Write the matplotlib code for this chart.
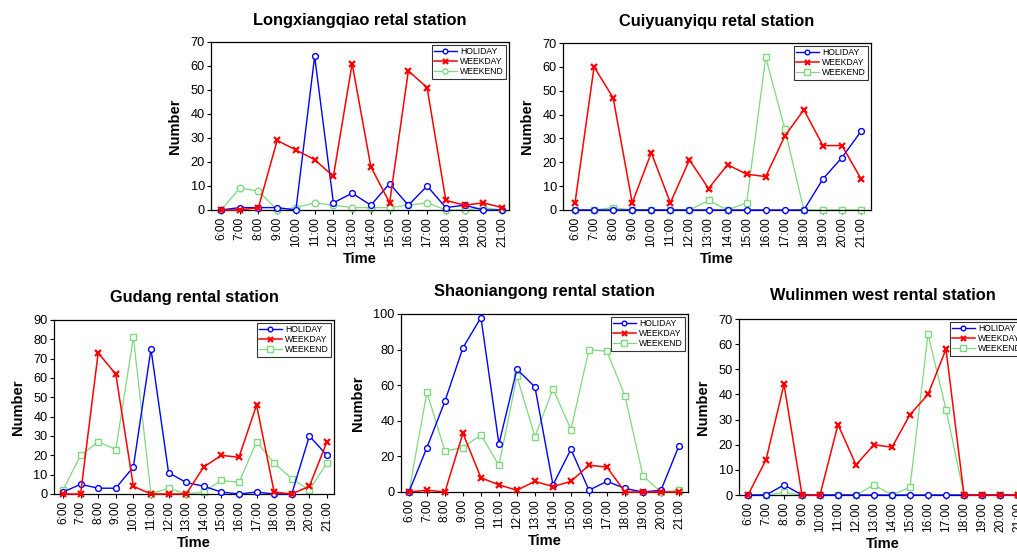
import matplotlib
matplotlib.use("Agg")
import matplotlib.pyplot as plt

plt.rcParams['font.family'] = ['Liberation Sans', 'DejaVu Sans']

hours = ["6:00", "7:00", "8:00", "9:00", "10:00", "11:00", "12:00", "13:00",
         "14:00", "15:00", "16:00", "17:00", "18:00", "19:00", "20:00", "21:00"]
series_names = ["HOLIDAY", "WEEKDAY", "WEEKEND"]

titles = ["Longxiangqiao retal station", "Cuiyuanyiqu retal station",
          "Gudang rental station", "Shaoniangong rental station",
          "Wulinmen west rental station"]

longx_holiday = [0, 1, 1, 1, 0, 64, 3, 7, 2, 11, 2, 10, 1, 2, 0, 0]
longx_weekday = [0, 0, 1, 29, 25, 21, 14, 61, 18, 3, 58, 51, 4, 2, 3, 1]
longx_weekend = [0, 9, 8, 0, 1, 3, 2, 1, 1, 1, 2, 3, 0, 0, 1, 0]

cuiy_holiday = [0, 0, 0, 0, 0, 0, 0, 0, 0, 0, 0, 0, 0, 13, 22, 33]
cuiy_weekday = [3, 60, 47, 3, 24, 3, 21, 9, 19, 15, 14, 31, 42, 27, 27, 13]
cuiy_weekend = [0, 0, 1, 0, 0, 0, 0, 4, 0, 3, 64, 34, 0, 0, 0, 0]

gud_holiday = [1, 5, 3, 3, 14, 75, 11, 6, 4, 1, 0, 1, 0, 0, 30, 20]
gud_weekday = [0, 0, 73, 62, 4, 0, 0, 0, 14, 20, 19, 46, 1, 0, 4, 27]
gud_weekend = [2, 20, 27, 23, 81, 0, 3, 0, 1, 7, 6, 27, 16, 8, 2, 16]

shao_holiday = [0, 25, 51, 81, 98, 27, 69, 59, 4, 24, 1, 6, 2, 0, 1, 26]
shao_weekday = [0, 1, 0, 33, 8, 4, 1, 6, 3, 6, 15, 14, 0, 0, 0, 0]
shao_weekend = [0, 56, 23, 25, 32, 15, 65, 31, 58, 35, 80, 79, 54, 9, 0, 1]

wul_holiday = [0, 0, 4, 0, 0, 0, 0, 0, 0, 0, 0, 0, 0, 0, 0, 0]
wul_weekday = [0, 14, 44, 0, 0, 28, 12, 20, 19, 32, 40, 58, 0, 0, 0, 0]
wul_weekend = [0, 0, 1, 0, 0, 0, 0, 4, 0, 3, 64, 34, 0, 0, 0, 0]

ymax = [70, 70, 90, 100, 70]
ystep = [10, 10, 10, 20, 10]

W, H = 1017, 555
fig = plt.figure(figsize=(W / 100, H / 100), dpi=100)

# (left, right, top, bottom) in pixels, xlim padding, title pad
boxes = [(211, 509, 42, 210, -0.53, 15.37, 12),
         (563, 871, 43, 210, -0.63, 15.52, 12),
         (54, 334, 320, 494, -0.51, 15.40, 13),
         (401, 688, 314, 492, -0.44, 15.50, 13),
         (739, 1027, 319, 495, -0.50, 15.50, 14)]

data = [(longx_holiday, longx_weekday, longx_weekend),
        (cuiy_holiday, cuiy_weekday, cuiy_weekend),
        (gud_holiday, gud_weekday, gud_weekend),
        (shao_holiday, shao_weekday, shao_weekend),
        (wul_holiday, wul_weekday, wul_weekend)]

colors = ['#0000FF', '#FF0000', '#7FD97F']
weekend_markers = ['o', 's', 's', 's', 's']

for i, (box, ser) in enumerate(zip(boxes, data)):
    l, r, t, b, x0, x1, tpad = box
    ax = fig.add_axes([l / W, 1 - b / H, (r - l) / W, (b - t) / H])
    x = list(range(len(hours)))
    markers = ['o', 'x', weekend_markers[i]]
    for j, (vals, name) in enumerate(zip(ser, series_names)):
        if j == 1:
            ax.plot(x, vals, color=colors[j], lw=1.1, marker='x', ms=4.5,
                    mew=1.6, label=name, clip_on=False, zorder=3)
        else:
            ax.plot(x, vals, color=colors[j], lw=1.0 if j == 0 else 0.9,
                    marker=markers[j], ms=4.2 if j == 0 else 4.8, mfc='white',
                    mew=1.0, label=name, clip_on=False, zorder=3 if j == 0 else 2)
    ax.set_xlim(x0, x1)
    ax.set_ylim(0, ymax[i])
    ax.set_yticks(range(0, ymax[i] + 1, ystep[i]))
    ax.set_xticks(x)
    ax.set_xticklabels(hours, rotation=90, fontsize=8.6)
    ax.tick_params(axis='y', labelsize=9.2, length=3, width=0.8, pad=1.5)
    ax.tick_params(axis='x', length=3, width=0.8, pad=2)
    for s in ax.spines.values():
        s.set_linewidth(0.9)
    ax.set_xlabel("Time", fontsize=10.5, fontweight='bold', labelpad=4)
    ax.set_ylabel("Number", fontsize=10.5, fontweight='bold', labelpad=6)
    ax.set_title(titles[i], fontsize=11.8, fontweight='bold', pad=tpad)
    leg = ax.legend(loc='upper right', fontsize=6.2, frameon=True, fancybox=False,
                    edgecolor='black', borderpad=0.3, labelspacing=0.12,
                    handlelength=2.6, handletextpad=0.4, borderaxespad=0.3,
                    markerscale=0.8)
    leg.get_frame().set_linewidth(0.8)

fig.savefig("out.png", dpi=100)
